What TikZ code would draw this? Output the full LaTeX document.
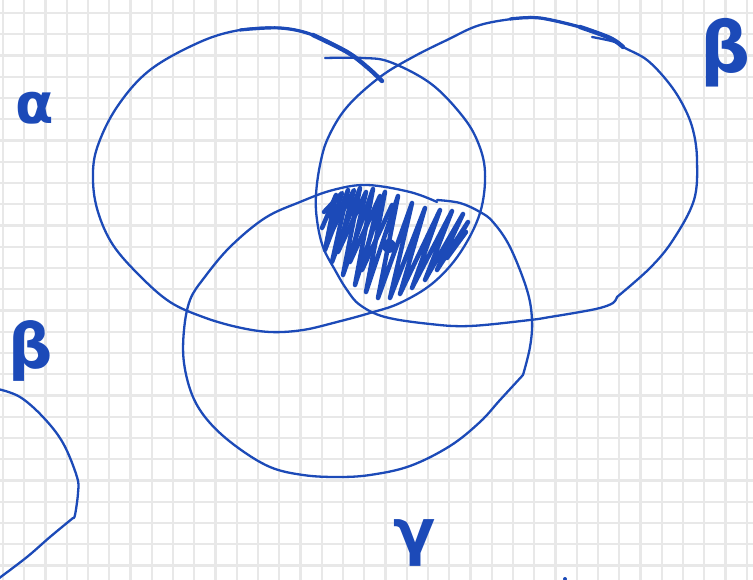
\documentclass[tikz,border=0pt]{standalone}
\usepackage{fontspec}
\newfontfamily\greekfont{DejaVu Sans}
\definecolor{ink}{RGB}{28,74,184}
\definecolor{gridc}{RGB}{232,232,232}
\tikzset{
  gridline/.style={draw=gridc, line width=2.4pt},
  pen/.style={draw=ink, line width=2.3pt, line cap=round, line join=round},
  midpen/.style={draw=ink, line width=3.2pt, line cap=round, line join=round},
  heavy/.style={draw=ink, line width=4.4pt, line cap=round, line join=round},
  hatch/.style={draw=ink, line width=4.5pt, line cap=round, line join=round},
  lbl/.style={text=ink, inner sep=0pt},
}
\begin{document}
\begin{tikzpicture}[x=1pt,y=-1pt]
\useasboundingbox (0,0) rectangle (753,580);
\fill[white] (0,0) rectangle (753,580);
% grid paper
\foreach \k in {0,...,35} \draw[gridline] ({3+21.25*\k},0) -- ({3+21.25*\k},580);
\foreach \k in {0,...,26} \draw[gridline] (0,{13+21.25*\k}) -- (753,{13+21.25*\k});

% alpha set
\draw[pen] plot[smooth, tension=0.6] coordinates {(325,58) (363,58) (390,62) (430,83) (460,113) (477,140) (485,172) (480,213) (460,253) (433,283) (400,303) (370,313) (337,322) (303,330) (270,332) (237,327) (203,317) (170,302) (140,276) (113,245) (98,212) (93,180) (97,148) (117,107) (150,70) (200,42) (240,30) (280,28) (313,35) (347,52) (367,67) (382,81)};
\draw[midpen] plot[smooth, tension=0.6] coordinates {(240,30) (280,28) (313,35) (347,52)};
\draw[heavy] plot[smooth, tension=0.6] coordinates {(313,35) (347,52) (367,67) (382,81)};

% beta set
\draw[pen] plot[smooth, tension=0.6] coordinates {(592,37) (615,42) (625,48) (647,60) (668,82) (683,105) (693,130) (697,160) (694,200) (673,240) (650,268) (617,297)};
\draw[pen] plot[smooth, tension=0.6] coordinates {(617,297) (613,303) (600,308) (580,312) (550,317) (530,320) (470,326) (430,324) (385,317) (360,305) (347,290) (335,270) (323,247) (317,220) (316,195) (320,165) (328,138) (347,107) (380,77) (413,57) (447,40) (480,25) (520,18) (540,18) (580,27) (610,38) (623,47)};
\draw[midpen] plot[smooth, tension=0.6] coordinates {(510,19) (540,18) (580,27)};
\draw[heavy] plot[smooth, tension=0.6] coordinates {(580,27) (610,38) (623,47)};

% gamma set
\draw[pen] plot[smooth, tension=0.6] coordinates {(437,200) (460,203) (480,212) (493,222) (510,247) (527,290) (532,320) (530,347) (523,375)};
\draw[pen] plot[smooth, tension=0.6] coordinates {(523,375) (500,400) (480,422) (450,446) (410,466) (370,475) (337,477) (303,475) (270,467) (237,447) (210,423) (193,397) (184,363) (184,330) (190,300) (204,278) (230,247) (265,218) (300,202) (333,190) (367,185) (410,192) (437,202)};

% partial set at lower left
\draw[pen] plot[smooth, tension=0.6] coordinates {(-2,389) (20,397) (43,417) (63,443) (77,477) (78,493) (75,515) (73,518)};
\draw[pen] plot[smooth, tension=0.6] coordinates {(73,518) (50,537) (27,557) (-2,579)};

% hatched triple intersection
\draw[hatch] plot coordinates {(322,228) (336,195) (325,250) (348,190) (332,262) (360,188) (343,275) (373,189) (355,285) (385,192) (366,292) (398,196) (378,298) (412,203) (390,298) (425,208) (400,294) (440,210) (412,288) (452,211) (425,280) (463,214) (437,270) (468,222) (447,258) (466,232)};
\draw[hatch] plot coordinates {(324,212) (342,193) (328,238) (354,190) (338,252) (366,192) (350,262) (380,196) (362,270) (392,205)};
\fill[ink] (389,246) circle (7);

% tiny mark at bottom edge
\fill[ink] (565,579) circle (2);

% labels
\node[lbl, font=\greekfont\bfseries\fontsize{56}{60}\selectfont] (alpha) at (35,108) {α};
\node[lbl, font=\greekfont\bfseries\fontsize{70}{80}\selectfont] (betaR) at (726,53) {β};
\node[lbl, font=\greekfont\bfseries\fontsize{62}{70}\selectfont] (betaL) at (31,351) {β};
\node[lbl, font=\greekfont\bfseries\fontsize{62}{72}\selectfont] (gamma) at (415,543) {γ};
\end{tikzpicture}
\end{document}
